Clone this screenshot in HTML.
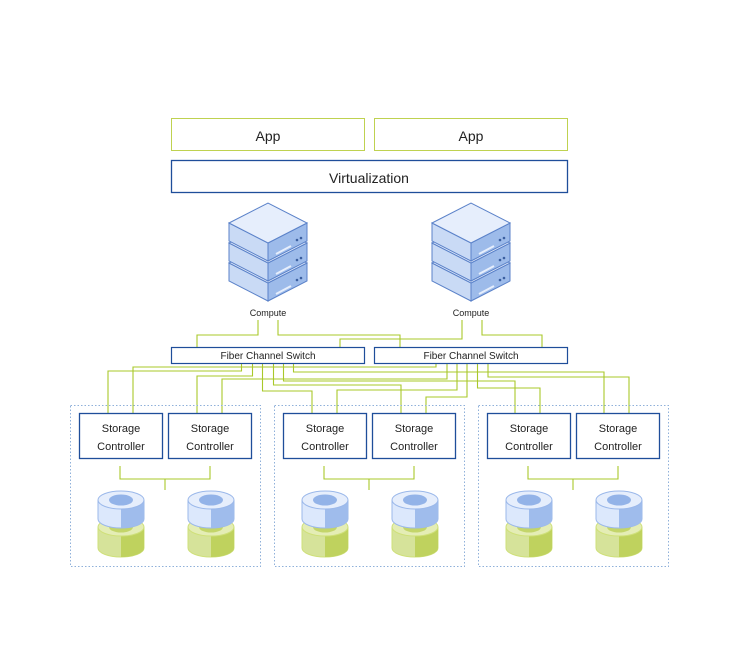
<!DOCTYPE html>
<html><head><meta charset="utf-8"><style>
body{margin:0;background:#fff;}
svg text{font-family:"Liberation Sans","DejaVu Sans",sans-serif;fill:#222;}
</style></head><body>
<svg width="735" height="652" viewBox="0 0 735 652" xmlns="http://www.w3.org/2000/svg">
<defs>
<g id="unit">
    <polygon points="0,20 39,40 39,58 0,38" fill="#c9daf5" stroke="#5b82c9" stroke-width="1"/>
    <polygon points="39,40 78,20 78,38 39,58" fill="#9dbbea" stroke="#5b82c9" stroke-width="1"/>
    <polygon points="0,20 39,0 78,20 39,40" fill="#e6eefc" stroke="#5b82c9" stroke-width="1"/>
    <line x1="47" y1="51" x2="62" y2="43" stroke="#e6eefc" stroke-width="2"/>
    <circle cx="68" cy="37" r="1.3" fill="#3b5fa0"/><circle cx="72" cy="35" r="1.3" fill="#3b5fa0"/>
</g>
<g id="disk">
  <path d="M-23,36 v21 a23,9 0 0 0 46,0 v-21" fill="#d6e39a" stroke="#cfe07a"/>
  <path d="M0,45 v21 a23,9 0 0 0 23,-9 v-21 z" fill="#bfd25e"/>
  <ellipse cx="0" cy="36" rx="23" ry="9" fill="#e4edb5" stroke="#cfe07a"/>
  <ellipse cx="0" cy="36" rx="12" ry="5.5" fill="#c3d56a"/>
  <path d="M-23,9 v19 a23,9 0 0 0 46,0 v-19" fill="#dce8fc" stroke="#9bb8ea"/>
  <path d="M0,18 v19 a23,9 0 0 0 23,-9 v-19 z" fill="#9fbcec"/>
  <ellipse cx="0" cy="9" rx="23" ry="9" fill="#e6eefc" stroke="#9bb8ea"/>
  <ellipse cx="0" cy="9" rx="12" ry="5.5" fill="#93b3e8"/>
</g>
</defs>

<rect x="171.5" y="118.5" width="193" height="32" fill="#fff" stroke="#bfd250"/>
<rect x="374.5" y="118.5" width="193" height="32" fill="#fff" stroke="#bfd250"/>
<text x="268" y="141" font-size="14" text-anchor="middle">App</text>
<text x="471" y="141" font-size="14" text-anchor="middle">App</text>
<rect x="171.5" y="160.5" width="396" height="32" fill="#fff" stroke="#1f4e9a" stroke-width="1.3"/>
<text x="369" y="183" font-size="14" text-anchor="middle">Virtualization</text>

<g transform="translate(229,243)"><use href="#unit"/></g>
<g transform="translate(229,223)"><use href="#unit"/></g>
<g transform="translate(229,203)"><use href="#unit"/></g>
<g transform="translate(432,243)"><use href="#unit"/></g>
<g transform="translate(432,223)"><use href="#unit"/></g>
<g transform="translate(432,203)"><use href="#unit"/></g>
<text x="268" y="316" font-size="9" text-anchor="middle">Compute</text>
<text x="471" y="316" font-size="9" text-anchor="middle">Compute</text>

<g fill="none" stroke="#a9c82a" stroke-width="1.1">
<polyline points="258,320 258,335 197,335 197,347"/>
<polyline points="278,320 278,335 400,335 400,347"/>
<polyline points="462,320 462,339 340,339 340,347"/>
<polyline points="482,320 482,335 542,335 542,347"/>

<polyline points="241.5,363 241.5,371 108,371 108,413"/>
<polyline points="252.5,363 252.5,376 197,376 197,413"/>
<polyline points="262.5,363 262.5,391 312,391 312,413"/>
<polyline points="273.5,363 273.5,385 401,385 401,413"/>
<polyline points="283.5,363 283.5,381 515,381 515,413"/>
<polyline points="293.5,363 293.5,372 604,372 604,413"/>
<polyline points="436,363 436,367 133,367 133,413"/>
<polyline points="447,363 447,379 222,379 222,413"/>
<polyline points="457,363 457,390 337,390 337,413"/>
<polyline points="467,363 467,397 426,397 426,413"/>
<polyline points="477.5,363 477.5,388 540,388 540,413"/>
<polyline points="488,363 488,377 629,377 629,413"/>
</g>

<rect x="171.5" y="347.5" width="193" height="16" fill="#fff" stroke="#1f4e9a" stroke-width="1.2"/>
<rect x="374.5" y="347.5" width="193" height="16" fill="#fff" stroke="#1f4e9a" stroke-width="1.2"/>
<text x="268" y="359" font-size="10" text-anchor="middle">Fiber Channel Switch</text>
<text x="471" y="359" font-size="10" text-anchor="middle">Fiber Channel Switch</text>

<g id="grp">
  <rect x="70.5" y="405.5" width="190" height="161" fill="none" stroke="#8fb0da" stroke-dasharray="1.5,2"/>
  <rect x="79.5" y="413.5" width="83" height="45" fill="#fff" stroke="#1f4e9a" stroke-width="1.3"/>
  <rect x="168.5" y="413.5" width="83" height="45" fill="#fff" stroke="#1f4e9a" stroke-width="1.3"/>
  <text x="121" y="432" font-size="11" text-anchor="middle">Storage</text>
  <text x="121" y="450" font-size="11" text-anchor="middle">Controller</text>
  <text x="210" y="432" font-size="11" text-anchor="middle">Storage</text>
  <text x="210" y="450" font-size="11" text-anchor="middle">Controller</text>
  <polyline points="120,466 120,479 210,479 210,466" fill="none" stroke="#a9c82a" stroke-width="1.1"/>
  <line x1="165" y1="479" x2="165" y2="490" stroke="#a9c82a" stroke-width="1.1"/>
  <g transform="translate(121,491)"><use href="#disk"/></g>
  <g transform="translate(211,491)"><use href="#disk"/></g>
</g>
<g transform="translate(204,0)"><use href="#grp"/></g>
<g transform="translate(408,0)"><use href="#grp"/></g>
</svg>
</body></html>
